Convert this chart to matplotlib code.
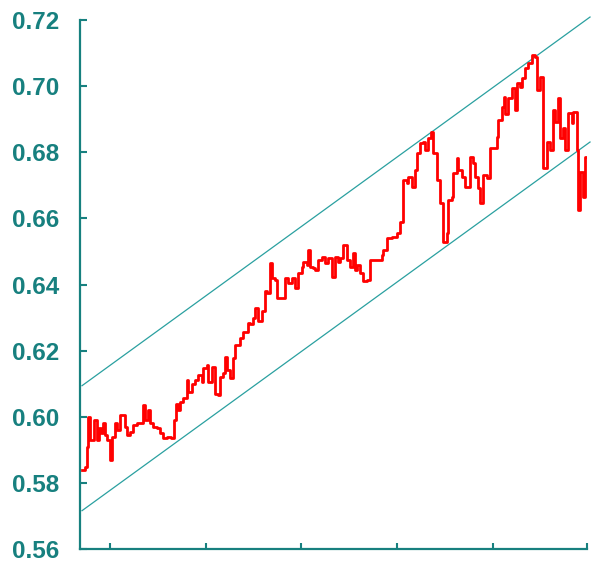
import matplotlib
matplotlib.use("Agg")
import matplotlib.pyplot as plt

# trading day offsets and the exchange rate
day = [0, 3, 5, 6, 8, 11, 12, 15, 17, 19,
       21, 23, 25, 28, 30, 33, 35, 38, 41, 43,
       45, 48, 51, 55, 58, 61, 63, 66, 68, 71,
       75, 78, 81, 85, 89, 92, 94, 96, 98, 101,
       105, 106, 110, 113, 116, 120, 121, 125, 126, 130,
       133, 136, 138, 141, 143, 145, 148, 151, 153, 158,
       161, 166, 168, 171, 173, 176, 180, 183, 185, 188,
       190, 193, 195, 198, 201, 203, 206, 210, 213, 216,
       220, 221, 225, 226, 228, 231, 233, 236, 240, 243,
       246, 250, 253, 256, 258, 261, 263, 265, 268, 271,
       273, 275, 278, 281, 283, 285, 288, 295, 300, 301,
       305, 310, 315, 318, 321, 325, 326, 330, 333, 335,
       338, 341, 343, 346, 349, 351, 355, 358, 361, 365,
       366, 370, 371, 375, 376, 380, 383, 388, 391, 393,
       396, 398, 401, 405, 408, 411, 415, 416, 420, 422,
       423, 426, 430, 433, 435, 438, 440, 443, 446, 450,
       453, 455, 458, 461, 465, 468, 471, 473, 476, 478,
       481, 483, 486, 490, 491, 495, 496, 498, 501, 503,
       504]
rate = [0.5840, 0.5848, 0.5910, 0.6000, 0.5930, 0.5930, 0.5990, 0.5930, 0.5966, 0.5950,
        0.5980, 0.5945, 0.5930, 0.5870, 0.5940, 0.5980, 0.5960, 0.6005, 0.6005, 0.5970,
        0.5945, 0.5955, 0.5975, 0.5980, 0.5980, 0.6036, 0.5990, 0.6020, 0.5980, 0.5970,
        0.5966, 0.5950, 0.5936, 0.5940, 0.5936, 0.5990, 0.6040, 0.6020, 0.6045, 0.6057,
        0.6110, 0.6075, 0.6100, 0.6110, 0.6126, 0.6105, 0.6147, 0.6157, 0.6105, 0.6150,
        0.6070, 0.6066, 0.6120, 0.6133, 0.6180, 0.6140, 0.6117, 0.6178, 0.6217, 0.6238,
        0.6256, 0.6284, 0.6280, 0.6300, 0.6330, 0.6290, 0.6320, 0.6380, 0.6374, 0.6465,
        0.6420, 0.6413, 0.6360, 0.6360, 0.6360, 0.6420, 0.6405, 0.6420, 0.6390, 0.6435,
        0.6453, 0.6468, 0.6460, 0.6505, 0.6453, 0.6450, 0.6444, 0.6474, 0.6483, 0.6465,
        0.6480, 0.6423, 0.6483, 0.6468, 0.6480, 0.6520, 0.6520, 0.6474, 0.6453, 0.6495,
        0.6444, 0.6460, 0.6435, 0.6410, 0.6410, 0.6413, 0.6474, 0.6474, 0.6490, 0.6505,
        0.6540, 0.6544, 0.6556, 0.6590, 0.6716, 0.6707, 0.6725, 0.6695, 0.6746, 0.6798,
        0.6828, 0.6831, 0.6807, 0.6843, 0.6860, 0.6798, 0.6716, 0.6647, 0.6529, 0.6556,
        0.6656, 0.6665, 0.6737, 0.6783, 0.6746, 0.6725, 0.6695, 0.6786, 0.6768, 0.6725,
        0.6692, 0.6647, 0.6731, 0.6722, 0.6813, 0.6813, 0.6846, 0.6898, 0.6937, 0.6967,
        0.6917, 0.6964, 0.6994, 0.6928, 0.7010, 0.6997, 0.7025, 0.7055, 0.7070, 0.7094,
        0.7088, 0.6988, 0.7028, 0.6752, 0.6831, 0.6807, 0.6928, 0.6892, 0.6964, 0.6843,
        0.6873, 0.6807, 0.6919, 0.6889, 0.6922, 0.6807, 0.6625, 0.6740, 0.6665, 0.6786,
        0.6786]

# trend channel end points
channel_day = [0, 508]
channel_upper = [0.6094, 0.7209]
channel_lower = [0.5716, 0.6831]

yticks = [0.56, 0.58, 0.60, 0.62, 0.64, 0.66, 0.68, 0.70, 0.72]
xticks = [28, 124, 219, 315, 411, 505]

teal = "#17807f"

fig = plt.figure(figsize=(5.95, 5.62), dpi=100)
ax = fig.add_axes([0.1345, 0.0231, 0.8521, 0.9413])

ax.plot(channel_day, channel_upper, color="#2aa0a0", lw=0.9, clip_on=False)
ax.plot(channel_day, channel_lower, color="#2aa0a0", lw=0.9, clip_on=False)
ax.plot(day, rate, color="#ff0000", lw=2.0, drawstyle="steps-post")

ax.set_xlim(-2, 505)
ax.set_ylim(0.56, 0.72)
ax.set_yticks(yticks)
ax.set_yticklabels(["%.2f" % v for v in yticks])
ax.set_xticks(xticks)
ax.set_xticklabels([])

for side in ("top", "right"):
    ax.spines[side].set_visible(False)
for side in ("left", "bottom"):
    ax.spines[side].set_color(teal)
    ax.spines[side].set_linewidth(1.6)

ax.tick_params(axis="y", direction="in", length=5, width=1.5, color=teal,
               pad=15, labelcolor=teal, labelsize=17.5)
ax.tick_params(axis="x", direction="in", length=4, width=1.5, color=teal)
for lbl in ax.get_yticklabels():
    lbl.set_fontfamily("Liberation Sans")
    lbl.set_fontweight("bold")

fig.savefig("out.png", dpi=100)
